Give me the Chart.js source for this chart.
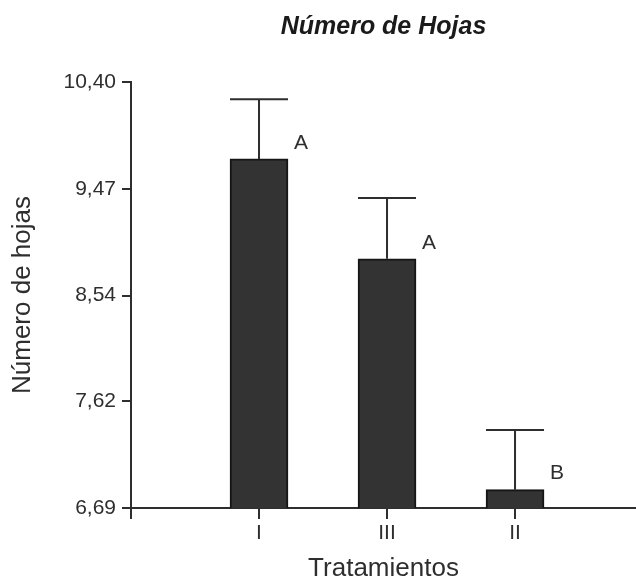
<!DOCTYPE html>
<html>
<head>
<meta charset="utf-8">
<title>Número de Hojas</title>
<script src="https://cdn.jsdelivr.net/npm/chart.js@4/dist/chart.umd.min.js"></script>
<style>
    body { margin: 0; background: #ffffff; }
</style>
</head>
<body>
<canvas id="barChart" width="636" height="584"></canvas>
<script>
// categories on the x axis, in the order they are drawn
const treatments = ['I', 'III', 'II'];
// mean number of leaves per treatment
const meanLeaves = [9.73, 8.86, 6.85];
// upper error bar length (standard deviation)
const errorLeaves = [0.52, 0.53, 0.52];
// letters of the mean comparison test
const groupLetters = ['A', 'A', 'B'];
// tick labels of the y axis
const yTicks = [6.69, 7.62, 8.54, 9.47, 10.40];

const fontFamily = "'Liberation Sans', Arial, sans-serif";
const inkColor = '#2e2e2e';

// bars sit at x = 1, 2, 3 on a linear axis so the axis can start at the y axis
const points = treatments.map(function (name, i) {
    return { x: i + 1, y: meanLeaves[i] };
});

/**
 * draw the upper error bars and the group letters over each bar
 */
const errorBars = {
    id: 'errorBars',
    afterDatasetsDraw (chart) {
        const ctx = chart.ctx;
        const yScale = chart.scales.y;
        const meta = chart.getDatasetMeta(0);
        ctx.save();
        ctx.strokeStyle = inkColor;
        ctx.lineWidth = 2;
        ctx.fillStyle = inkColor;
        ctx.font = '21px ' + fontFamily;
        ctx.textAlign = 'center';
        ctx.textBaseline = 'middle';
        meta.data.forEach(function (bar, i) {
            const top = yScale.getPixelForValue(meanLeaves[i] + errorLeaves[i]);
            const half = bar.width / 2;
            ctx.beginPath();
            ctx.moveTo(bar.x, bar.y);
            ctx.lineTo(bar.x, top);
            ctx.moveTo(bar.x - half, top);
            ctx.lineTo(bar.x + half, top);
            ctx.stroke();
            ctx.fillText(groupLetters[i], bar.x + half + 13, bar.y - 16);
        });
        ctx.restore();
    }
};

const data = {
    datasets: [
        {
            label: 'Número de hojas',
            data: points,
            backgroundColor: '#333333',
            borderColor: '#151515',
            borderWidth: 2,
            barThickness: 58
        }
    ]
};

const config = {
    type: 'bar',
    data: data,
    plugins: [errorBars],
    options: {
        responsive: false,
        animation: false,
        layout: { padding: 0 },
        plugins: {
            legend: { display: false },
            tooltip: { enabled: false },
            // the title of the graph
            title: {
                display: true,
                fullSize: false,
                text: 'Número de Hojas',
                color: '#1a1a1a',
                font: { family: fontFamily, size: 25, weight: 'bold', style: 'italic' },
                padding: { top: 12, bottom: 40 }
            }
        },
        scales: {
            x: {
                type: 'linear',
                offset: false,
                min: 0,
                max: 3.945,
                afterBuildTicks: function (scale) {
                    scale.ticks = [0, 1, 2, 3].map(function (v) { return { value: v }; });
                },
                afterFit: function (scale) { scale.height = 76; },
                ticks: {
                    color: inkColor,
                    padding: 2,
                    font: { family: fontFamily, size: 21 },
                    callback: function (v) { return v === 0 ? '' : treatments[v - 1]; }
                },
                grid: {
                    offset: false,
                    drawOnChartArea: false,
                    tickLength: 11,
                    tickColor: inkColor,
                    lineWidth: 2
                },
                border: { color: inkColor, width: 2 },
                title: {
                    display: true,
                    text: 'Tratamientos',
                    color: inkColor,
                    font: { family: fontFamily, size: 26 },
                    padding: { top: 0, bottom: 0 }
                }
            },
            y: {
                min: yTicks[0],
                max: yTicks[yTicks.length - 1],
                afterBuildTicks: function (scale) {
                    scale.ticks = yTicks.map(function (v) { return { value: v }; });
                },
                afterFit: function (scale) { scale.width = 131; },
                ticks: {
                    color: inkColor,
                    padding: 6,
                    font: { family: fontFamily, size: 21 },
                    callback: function (v) { return v.toFixed(2).replace('.', ','); }
                },
                grid: {
                    drawOnChartArea: false,
                    tickLength: 9,
                    tickColor: inkColor,
                    lineWidth: 2
                },
                border: { color: inkColor, width: 2 },
                title: {
                    display: true,
                    text: 'Número de hojas',
                    color: inkColor,
                    font: { family: fontFamily, size: 26 },
                    padding: { top: 7, bottom: 0 }
                }
            }
        }
    }
};

// link the chart to html
const myChart = new Chart(
    document.getElementById('barChart'),
    config
);
</script>
</body>
</html>
